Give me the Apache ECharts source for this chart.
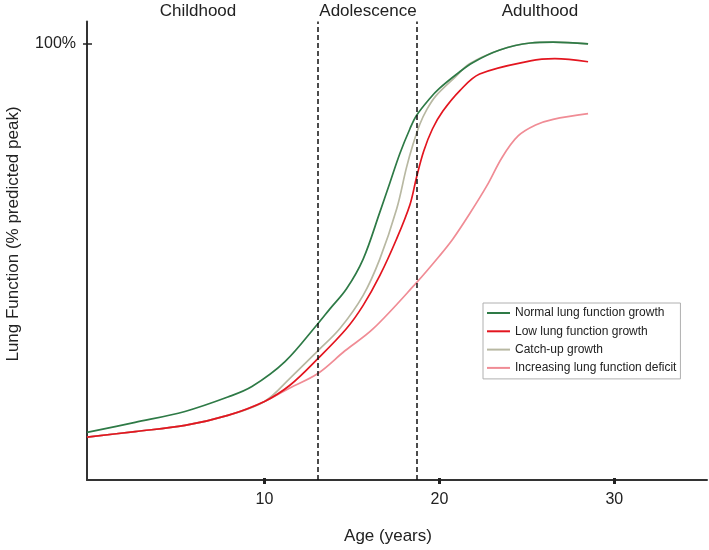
<!DOCTYPE html>
<html>
<head>
<meta charset="utf-8">
<script src="https://cdn.jsdelivr.net/npm/echarts@6/dist/echarts.min.js"></script>
<style>
html,body{margin:0;padding:0;background:#fff;}
#chart{width:709px;height:550px;}
</style>
</head>
<body>
<div id="chart"></div>
<script>
// ---- data (age in years, lung function in % predicted peak) ----
const seriesNames = ['Normal lung function growth', 'Low lung function growth', 'Catch-up growth', 'Increasing lung function deficit'];
const phaseLabels = ['Childhood', 'Adolescence', 'Adulthood'];
const phaseBoundaries = [13.03, 18.69];
const xTicks = [10, 20, 30];
const yTicks = [100];

const normalGrowth = [[-0.15,10.9],[2.6,13.2],[5.45,15.7],[7.9,19.0],[9.28,21.4],[11.17,27.1],[13.05,35.8],[13.74,39.2],[14.69,43.8],[15.64,50.6],[16.59,61.3],[17.17,68.1],[17.74,74.8],[18.31,80.4],[18.69,83.5],[19.45,87.4],[20.0,89.7],[21.0,93.0],[21.9,95.6],[23.45,98.5],[25.2,100.1],[26.5,100.3],[28.5,99.9]];
const lowGrowth = [[-0.15,9.8],[2.6,11.1],[5.45,12.5],[7.9,14.8],[10.0,18.0],[11.45,21.7],[13.05,27.8],[14.69,34.7],[15.64,40.0],[16.59,46.8],[17.55,55.2],[18.31,63.0],[18.69,69.3],[19.1,75.3],[19.6,80.4],[20.2,84.5],[21.17,89.2],[22.3,93.0],[25.2,96.0],[26.6,96.5],[28.5,95.8]];
const catchUpGrowth = [[-0.15,9.8],[2.6,11.1],[5.45,12.5],[7.9,14.8],[10.0,18.0],[11.45,23.3],[13.05,29.6],[14.31,34.7],[15.64,42.3],[16.59,50.6],[17.55,62.0],[18.12,71.6],[18.5,77.0],[18.88,81.5],[19.3,85.0],[19.8,88.0],[20.9,92.3],[21.7,95.3],[23.45,98.5],[25.2,100.1],[26.5,100.3],[28.5,99.9]];
const deficitGrowth = [[-0.15,9.8],[2.6,11.1],[5.45,12.5],[7.9,14.8],[10.0,18.0],[11.45,21.1],[13.05,24.4],[14.6,29.6],[16.2,34.6],[18.69,45.2],[20.02,51.4],[20.77,55.2],[21.7,60.8],[22.7,67.3],[23.6,74.0],[24.5,78.8],[25.5,81.3],[26.5,82.6],[28.5,83.9]];

const colors = {
  normal: '#2e7a46',
  low: '#e3151f',
  catchUp: '#b8b8a2',
  deficit: '#f08c95'
};
const FONT = 'Liberation Sans, Arial, Helvetica, sans-serif';
const GRID_TOP = 21.6, GRID_BOTTOM = 68, GRID_LEFT = 87, GRID_RIGHT = 2;
const W = 709, H = 550;

const chart = echarts.init(document.getElementById('chart'), null, {renderer: 'canvas'});

function lineSeries(name, data, color, extra) {
  return Object.assign({
    name: name,
    type: 'line',
    data: data,
    smooth: 0.35,
    symbol: 'none',
    lineStyle: {color: color, width: 1.7},
    itemStyle: {color: color},
    xAxisIndex: 0,
    yAxisIndex: 0,
    silent: true
  }, extra || {});
}

const option = {
  animation: false,
  backgroundColor: '#fff',
  grid: {left: GRID_LEFT, right: GRID_RIGHT, top: GRID_TOP, bottom: GRID_BOTTOM, containLabel: false},
  xAxis: [{
    type: 'value', min: -0.15, max: 35.3, position: 'bottom',
    axisLine: {show: true, onZero: false, lineStyle: {color: '#333', width: 2}},
    axisTick: {show: true, customValues: xTicks, length: 4, lineStyle: {color: '#222', width: 3}},
    axisLabel: {customValues: xTicks, color: '#222', fontSize: 16, fontFamily: FONT, margin: 12},
    splitLine: {show: false},
    name: 'Age (years)', nameLocation: 'middle', nameGap: 48,
    nameTextStyle: {color: '#222', fontSize: 17, fontFamily: FONT, padding: [0, 18, 0, 0]}
  }, {
    // upper half of the x ticks: a top axis shifted down onto the bottom line
    type: 'value', min: -0.15, max: 35.3, position: 'top',
    offset: -(H - GRID_TOP - GRID_BOTTOM),
    axisLine: {show: true, onZero: false, lineStyle: {color: '#333', width: 2, opacity: 0}},
    axisTick: {show: true, customValues: xTicks, length: 4, lineStyle: {color: '#222', width: 3, opacity: 1}},
    axisLabel: {show: false},
    splitLine: {show: false}
  }],
  yAxis: [{
    type: 'value', min: 0, max: 105, position: 'left',
    axisLine: {show: true, onZero: false, lineStyle: {color: '#333', width: 2}},
    axisTick: {show: true, customValues: yTicks, length: 4, lineStyle: {color: '#222', width: 1.5}},
    axisLabel: {customValues: yTicks, formatter: '{value}%', color: '#222', fontSize: 16, fontFamily: FONT, margin: 11},
    splitLine: {show: false}
  }, {
    // right half of the y tick: a right axis shifted left onto the left line
    type: 'value', min: 0, max: 105, position: 'right',
    offset: -(W - GRID_LEFT - GRID_RIGHT),
    axisLine: {show: true, onZero: false, lineStyle: {color: '#333', width: 2, opacity: 0}},
    axisTick: {show: true, customValues: yTicks, length: 5, lineStyle: {color: '#222', width: 1.5, opacity: 1}},
    axisLabel: {show: false},
    splitLine: {show: false}
  }],
  legend: {
    orient: 'vertical',
    left: 483, top: 303,
    data: seriesNames.map(n => ({name: n, icon: 'rect'})),
    itemWidth: 23, itemHeight: 2, itemGap: 6.3,
    padding: [4, 4, 5, 4],
    borderColor: '#b0b0b0', borderWidth: 1,
    backgroundColor: '#fff',
    textStyle: {color: '#222', fontSize: 12, fontFamily: FONT, lineHeight: 12},
    selectedMode: false
  },
  graphic: [
    {type: 'text', x: 198, y: 11, style: {text: phaseLabels[0], fill: '#222', font: '17px ' + FONT, align: 'center', verticalAlign: 'middle'}},
    {type: 'text', x: 368, y: 11, style: {text: phaseLabels[1], fill: '#222', font: '17px ' + FONT, align: 'center', verticalAlign: 'middle'}},
    {type: 'text', x: 540, y: 11, style: {text: phaseLabels[2], fill: '#222', font: '17px ' + FONT, align: 'center', verticalAlign: 'middle'}},
    {type: 'text', x: 13, y: 234, rotation: Math.PI / 2, style: {text: 'Lung Function (% predicted peak)', fill: '#222', font: '17px ' + FONT, align: 'center', verticalAlign: 'middle'}}
  ],
  series: [
    lineSeries(seriesNames[3], deficitGrowth, colors.deficit),
    lineSeries(seriesNames[2], catchUpGrowth, colors.catchUp),
    lineSeries(seriesNames[1], lowGrowth, colors.low),
    lineSeries(seriesNames[0], normalGrowth, colors.normal, {
      markLine: {
        silent: true,
        symbol: ['none', 'none'],
        label: {show: false},
        lineStyle: {color: '#111', width: 1.5, type: [5, 3]},
        data: phaseBoundaries.map(v => ({xAxis: v}))
      }
    })
  ]
};
chart.setOption(option);
</script>
</body>
</html>
